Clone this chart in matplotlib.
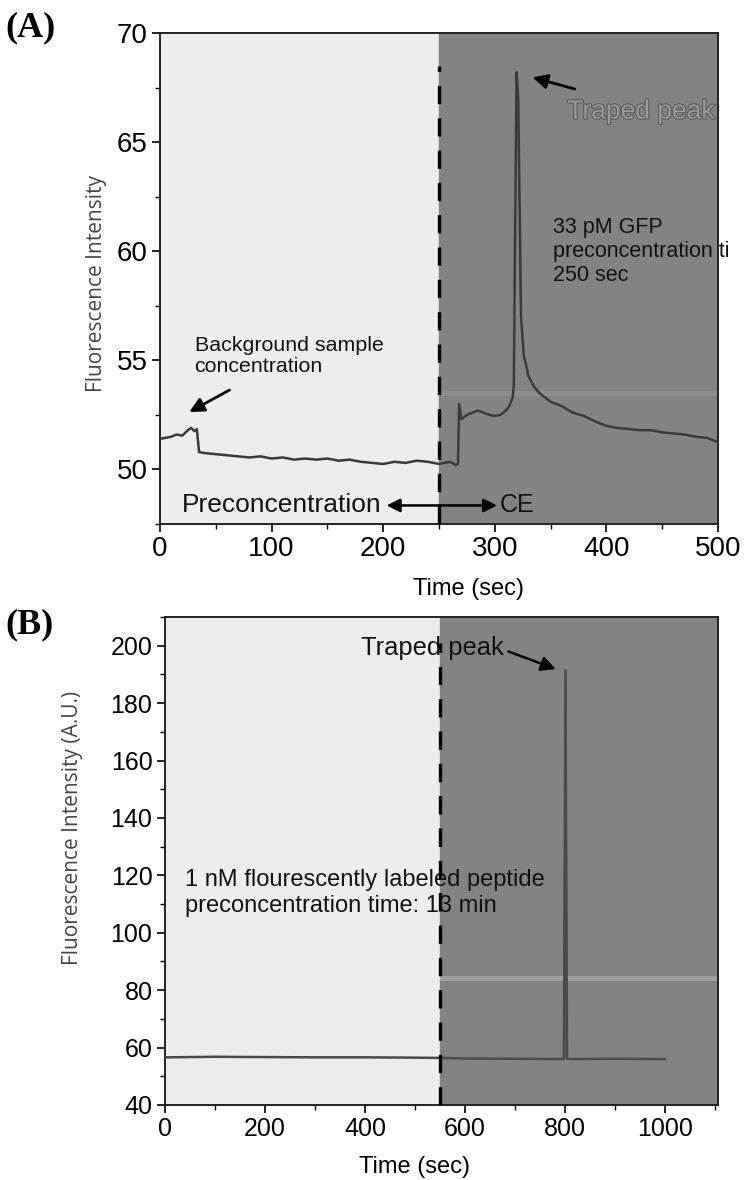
import matplotlib
matplotlib.use("Agg")
import matplotlib.pyplot as plt
from matplotlib import font_manager
from matplotlib.ticker import MultipleLocator
import matplotlib.patheffects as pe

# ---- data -------------------------------------------------------------
# (A) GFP trace
time_a = [0, 5, 10, 15, 20, 25, 28, 31, 33, 35, 40, 50, 60, 70, 80, 90, 100,
          110, 120, 130, 140, 150, 160, 170, 180, 190, 200, 210, 220, 230, 240,
          250, 255, 260, 265, 267, 268, 270, 275, 280, 285, 290, 295, 300, 305,
          310, 313, 316, 317, 319.5, 321, 323.5, 326, 328, 330, 335, 340, 345,
          350, 360, 370, 380, 390, 400, 410, 420, 430, 440, 450, 460, 470, 480,
          490, 500]
signal_a = [51.4, 51.45, 51.5, 51.6, 51.55, 51.8, 51.9, 51.75, 51.85, 50.8,
            50.75, 50.7, 50.65, 50.6, 50.55, 50.6, 50.5, 50.55, 50.45, 50.5,
            50.45, 50.5, 50.4, 50.45, 50.35, 50.3, 50.25, 50.35, 50.3, 50.4,
            50.35, 50.25, 50.3, 50.35, 50.2, 50.25, 53.0, 52.3, 52.5, 52.6,
            52.7, 52.6, 52.5, 52.45, 52.5, 52.7, 52.9, 53.3, 53.8, 68.2, 67.0,
            57.0, 55.2, 54.8, 54.3, 53.8, 53.5, 53.3, 53.1, 52.9, 52.6, 52.45,
            52.2, 52.0, 51.9, 51.85, 51.8, 51.8, 51.7, 51.65, 51.6, 51.5, 51.45,
            51.25]
switch_a = 250           # preconcentration -> CE
peak_a = (319.5, 68.2)

# (B) peptide trace
time_b = [0, 100, 200, 300, 400, 500, 550, 600, 700, 798, 801, 804, 900, 1000]
signal_b = [56.6, 56.8, 56.7, 56.6, 56.6, 56.5, 56.4, 56.2, 56.1, 56.0,
            191.5, 56.0, 56.1, 56.0]
switch_b = 550
peak_b = (801, 191.5)

xticks_a = [0, 100, 200, 300, 400, 500]
yticks_a = [50, 55, 60, 65, 70]
xticks_b = [0, 200, 400, 600, 800, 1000]
yticks_b = [40, 60, 80, 100, 120, 140, 160, 180, 200]

# ---- fonts -------------------------------------------------------------
available = {f.name for f in font_manager.fontManager.ttflist}
NARROW = "Liberation Sans Narrow" if "Liberation Sans Narrow" in available else "Liberation Sans"
SANS = "Liberation Sans"
HUM = "Open Sans" if "Open Sans" in available else "DejaVu Sans"
SERIF = "Liberation Serif"

LIGHT = "#ededed"
DARK = "#838383"
TRACE = "#3a3a3a"

fig = plt.figure(figsize=(7.52, 11.8), dpi=100)
fig.patch.set_facecolor("white")


def style_axes(ax, xmaj, xmin, ymaj, ymin, tick_size, tick_font):
    ax.xaxis.set_major_locator(MultipleLocator(xmaj))
    ax.xaxis.set_minor_locator(MultipleLocator(xmin))
    ax.yaxis.set_major_locator(MultipleLocator(ymaj))
    ax.yaxis.set_minor_locator(MultipleLocator(ymin))
    ax.tick_params(which="major", direction="out", length=6, width=1.2,
                   labelsize=tick_size, pad=3)
    ax.tick_params(which="minor", direction="out", length=3.5, width=1.0)
    for lab in ax.get_xticklabels() + ax.get_yticklabels():
        lab.set_fontfamily(tick_font)
    for s in ax.spines.values():
        s.set_linewidth(1.4)
        s.set_color("#222222")


DASH = (5.5, 4.2)

# ---- panel A -----------------------------------------------------------
axA = fig.add_axes([160 / 752, 1 - 524 / 1180, 558 / 752, 491 / 1180])
axA.set_xlim(0, 500)
axA.set_ylim(47.5, 70)
axA.axvspan(0, switch_a, color=LIGHT, zorder=0)
axA.axvspan(switch_a, 500, color=DARK, zorder=0)
axA.fill_between([switch_a, 500], 53.35, 53.6, color="#8d8d8d", lw=0, zorder=0.5)
axA.plot(time_a, signal_a, color=TRACE, lw=1.8, zorder=3)
axA.plot([switch_a, switch_a], [47.5, 68.5], color="black", lw=2.4,
         dashes=DASH, zorder=4)
axA.set_xticks(xticks_a)
axA.set_yticks(yticks_a)
style_axes(axA, 100, 50, 5, 2.5, 20, NARROW)
axA.set_xlabel("Time (sec)", fontsize=17, fontfamily=NARROW)
axA.xaxis.set_label_coords(0.552, -0.11)
axA.set_ylabel("Fluorescence Intensity", fontsize=15, fontfamily=HUM,
               color="#444444")
axA.yaxis.set_label_coords(-0.095, 0.49)

axA.annotate("", xy=(peak_a[0] + 12, peak_a[1] - 0.2), xytext=(374, 67.4),
             arrowprops=dict(arrowstyle="-|>", color="black", lw=2,
                             mutation_scale=22), zorder=5)
axA.text(365, 66.4, "Traped peak", fontsize=19, fontfamily=NARROW,
         color="#9a9a9a", va="center", ha="left", clip_on=True,
         path_effects=[pe.withStroke(linewidth=1.6, foreground="#5a5a5a")])
axA.text(352, 60.0, "33 pM GFP\npreconcentration ti\n250 sec", fontsize=15.5,
         fontfamily=NARROW, color="#111111", va="center", ha="left",
         linespacing=1.2, clip_on=False)
axA.text(31, 55.2, "Background sample\nconcentration", fontsize=15.4,
         fontfamily=NARROW, color="#111111", va="center", ha="left",
         linespacing=1.1)
axA.annotate("", xy=(24, 52.57), xytext=(64.5, 53.7),
             arrowprops=dict(arrowstyle="-|>", color="black", lw=2,
                             mutation_scale=22), zorder=5)
axA.text(20, 48.35, "Preconcentration", fontsize=19, fontfamily=SANS,
         color="#111111", va="center", ha="left")
axA.annotate("", xy=(203, 48.35), xytext=(302, 48.35),
             arrowprops=dict(arrowstyle="<|-|>", color="black", lw=1.8,
                             mutation_scale=20, shrinkA=0, shrinkB=0), zorder=5)
axA.text(304, 48.35, "CE", fontsize=18, fontfamily=SANS, color="#111111",
         va="center", ha="left")

# ---- panel B -----------------------------------------------------------
axB = fig.add_axes([165 / 752, 1 - 1105 / 1180, 553 / 752, 488 / 1180])
axB.set_xlim(0, 1106)
axB.set_ylim(40, 210)
axB.axvspan(0, switch_b, color=LIGHT, zorder=0)
axB.axvspan(switch_b, 1106, color=DARK, zorder=0)
axB.fill_between([switch_b, 1106], 83.2, 85.0, color="#a0a0a0", lw=0, zorder=0.5)
axB.plot(time_b, signal_b, color="#4a4a4a", lw=1.8, zorder=3)
axB.plot([switch_b, switch_b], [40, 201], color="black", lw=2.4,
         dashes=DASH, zorder=4)
axB.set_xticks(xticks_b)
axB.set_yticks(yticks_b)
style_axes(axB, 200, 100, 20, 10, 18, NARROW)
axB.set_xlabel("Time (sec)", fontsize=17, fontfamily=NARROW)
axB.xaxis.set_label_coords(0.452, -0.104)
axB.set_ylabel("Fluorescence Intensity (A.U.)", fontsize=15, fontfamily=HUM,
               color="#444444")
axB.yaxis.set_label_coords(-0.148, 0.568)

axB.annotate("", xy=(peak_b[0] - 14, peak_b[1]), xytext=(682, 198.3),
             arrowprops=dict(arrowstyle="-|>", color="black", lw=1.8,
                             mutation_scale=22), zorder=5)
axB.text(678, 199.2, "Traped peak", fontsize=18.4, fontfamily=NARROW,
         color="#111111", va="center", ha="right", zorder=6)
axB.text(40, 113.8, "1 nM flourescently labeled peptide\npreconcentration time: 13 min",
         fontsize=17, fontfamily=NARROW, color="#111111", va="center",
         ha="left", linespacing=1.2, zorder=6)

# ---- panel labels ------------------------------------------------------
fig.text(5 / 752, 1 - 28 / 1180, "(A)", fontsize=26, fontweight="bold",
         fontfamily=SERIF, va="center", ha="left")
fig.text(5 / 752, 1 - 625 / 1180, "(B)", fontsize=26, fontweight="bold",
         fontfamily=SERIF, va="center", ha="left")

fig.savefig("out.png", dpi=100, facecolor="white")
